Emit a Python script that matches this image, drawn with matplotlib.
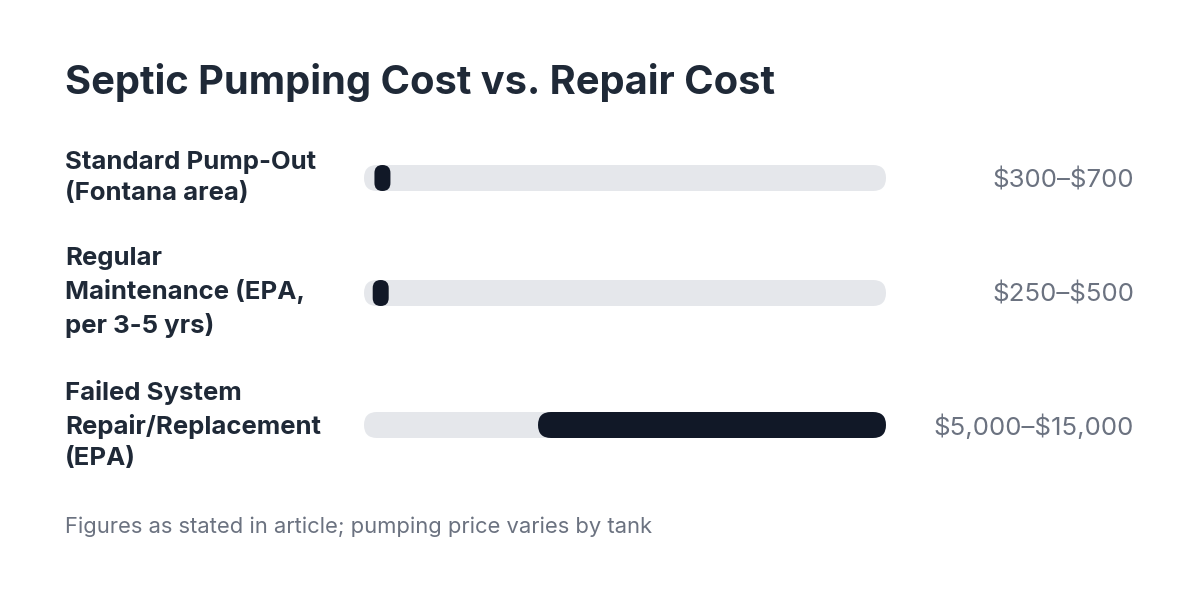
import matplotlib.pyplot as plt
from matplotlib.patches import FancyBboxPatch

# data
labels = ["Standard Pump-Out\n(Fontana area)",
          "Regular\nMaintenance (EPA,\nper 3-5 yrs)",
          "Failed System\nRepair/Replacement\n(EPA)"]
low = [300, 250, 5000]
high = [700, 500, 15000]
value_text = ["\\$300\u2013\\$700", "\\$250\u2013\\$500", "\\$5,000\u2013\\$15,000"]
scale_max = 15000

title = "Septic Pumping Cost vs. Repair Cost"
note = "Figures as stated in article; pumping price varies by tank"

W, H = 1200, 597
plt.rcParams['font.family'] = ['Inter', 'DejaVu Sans']

fig = plt.figure(figsize=(W / 100, H / 100), dpi=100)
fig.patch.set_facecolor('white')

# bar area in pixels
x0, x1 = 364, 886
bar_h = 26
row_y = [178, 293, 425]

ax = fig.add_axes([x0 / W, 0, (x1 - x0) / W, 1])
ax.set_xlim(0, scale_max)
ax.set_ylim(H, 0)
ax.axis('off')

ux = scale_max / (x1 - x0)       # value units per pixel
aspect = 1 / ux
rad = bar_h / 2 * ux
min_w = 16 * ux

def pill(a, b, y, color):
    w = max(b - a, min_w)
    p = FancyBboxPatch((a, y - bar_h / 2), w, bar_h,
                       boxstyle=f"round,pad=0,rounding_size={min(rad, w / 2)}",
                       mutation_aspect=aspect, linewidth=0, facecolor=color)
    ax.add_patch(p)

for i in range(len(labels)):
    y = row_y[i]
    pill(0, scale_max, y, '#e5e7eb')
    pill(low[i], high[i], y, '#111827')
    fig.text(65 / W, 1 - y / H, labels[i], fontsize=18.5, fontweight='bold',
             color='#1f2937', va='center', ha='left', linespacing=1.45)
    fig.text(1134 / W, 1 - (y + 2) / H, value_text[i], fontsize=18.6,
             color='#6b7280', va='center', ha='right')

fig.text(65 / W, 1 - 82 / H, title, fontsize=28.7, fontweight='bold',
         color='#1f2937', va='center', ha='left')
fig.text(65 / W, 1 - 527 / H, note, fontsize=15.8, color='#6b7280',
         va='center', ha='left')

fig.savefig('out.png', dpi=100, facecolor='white')
